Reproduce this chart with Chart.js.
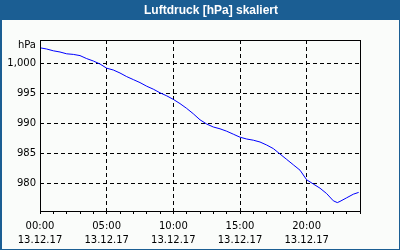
<!DOCTYPE html>
<html>
<head>
<meta charset="utf-8">
<script src="https://cdn.jsdelivr.net/npm/chart.js@4/dist/chart.umd.min.js"></script>
<style>
  html, body { margin: 0; padding: 0; background: #fafcfa; }
  #wrap { width: 400px; height: 250px; position: relative; }
</style>
</head>
<body>
<div id="wrap"><canvas id="c" width="400" height="250"></canvas></div>
<script>
const titleText = 'Luftdruck [hPa] skaliert';
const unitLabel = 'hPa';
const hours = [0,0.5,1,1.5,2,2.5,3,3.5,4,4.5,5,5.5,6,6.5,7,7.5,8,8.5,9,9.5,10,10.5,11,11.5,12,12.5,13,13.5,14,14.5,15,15.5,16,16.5,17,17.5,18,18.5,19,19.5,20,20.5,21,21.5,22,22.3,22.5,23,23.5,23.9];
const pressure = [1002.6,1002.4,1002.1,1001.9,1001.6,1001.5,1001.3,1000.8,1000.4,999.9,999.2,998.9,998.4,997.8,997.3,996.8,996.2,995.7,995.1,994.6,994.0,993.3,992.5,991.6,990.6,989.9,989.4,989.1,988.7,988.2,987.7,987.4,987.2,986.9,986.4,985.8,984.9,984.0,983.1,982.2,980.6,979.9,979.2,978.3,977.1,976.8,977.0,977.6,978.2,978.5];
const xTickHours = [0,5,10,15,20];
const xTickLabels = ['00:00','05:00','10:00','15:00','20:00'];
const dateLabel = '13.12.17';
const yTickValues = [980,985,990,995,1000];
const yUnitPos = 1003;

const points = hours.map((h,i)=>({x:h, y:pressure[i]}));

const frame = {
  id: 'frame',
  beforeDraw(chart) {
    const ctx = chart.ctx;
    ctx.save();
    ctx.fillStyle = '#fafcfa';
    ctx.fillRect(0,0,400,250);
    ctx.fillStyle = '#1b5e93';
    ctx.fillRect(0,0,400,20);
    ctx.fillStyle = '#ffffff';
    ctx.font = 'bold 12px "Liberation Sans"';
    ctx.textAlign = 'center';
    ctx.textBaseline = 'middle';
    ctx.fillText(titleText, 211, 11);
    ctx.restore();
  },
  afterDraw(chart) {
    const ctx = chart.ctx;
    const a = chart.chartArea;
    ctx.save();
    ctx.strokeStyle = '#000000';
    ctx.lineWidth = 1;
    ctx.setLineDash([]);
    ctx.strokeRect(Math.round(a.left)+0.5, Math.round(a.top)+0.5, Math.round(a.right-a.left), Math.round(a.bottom-a.top));
    ctx.fillStyle = '#1b5e93';
    ctx.fillRect(0,0,2,250);
    ctx.fillRect(399,0,1,250);
    ctx.fillRect(0,249,400,1);
    ctx.restore();
  }
};

new Chart(document.getElementById('c'), {
  type: 'line',
  data: {
    datasets: [{
      data: points,
      borderColor: '#0000ff',
      borderWidth: 1,
      pointRadius: 0,
      tension: 0,
      fill: false
    }]
  },
  options: {
    responsive: false,
    animation: false,
    events: [],
    layout: { padding: { top: 40, right: 40, left: 0, bottom: 0 } },
    plugins: { legend: { display: false }, title: { display: false }, tooltip: { enabled: false } },
    scales: {
      x: {
        type: 'linear',
        min: 0, max: 24,
        afterFit(s) { s.height = 39; },
        afterBuildTicks(s) {
          const t = [];
          for (let h = 0; h <= 24; h++) t.push({value: h});
          s.ticks = t;
        },
        border: { display: false, dash: [4,3] },
        grid: {
          color: c => (c.tick && xTickHours.includes(c.tick.value) && c.tick.value !== 0) ? '#000000' : 'rgba(0,0,0,0)',
          tickColor: '#000000',
          tickLength: 3,
          tickBorderDash: [],
          lineWidth: 1
        },
        ticks: {
          autoSkip: false,
          maxRotation: 0,
          padding: 5,
          color: '#000000',
          font: { family: 'DejaVu Sans', size: 10, lineHeight: 1.45 },
          callback: v => {
            const i = xTickHours.indexOf(v);
            return i >= 0 ? [xTickLabels[i], dateLabel] : '';
          }
        }
      },
      y: {
        min: 975.4, max: 1003.9,
        afterFit(s) { s.width = 40; },
        afterBuildTicks(s) {
          s.ticks = yTickValues.concat([yUnitPos]).map(v => ({value: v}));
        },
        border: { display: false, dash: [4,3] },
        grid: {
          color: c => (c.tick && c.tick.value === yUnitPos) ? 'rgba(0,0,0,0)' : '#000000',
          drawTicks: false,
          lineWidth: 1
        },
        ticks: {
          padding: 4,
          color: '#000000',
          font: { family: 'DejaVu Sans', size: 10 },
          callback: v => v === yUnitPos ? unitLabel : v.toLocaleString('en-US')
        }
      }
    }
  },
  plugins: [frame]
});
</script>
</body>
</html>
